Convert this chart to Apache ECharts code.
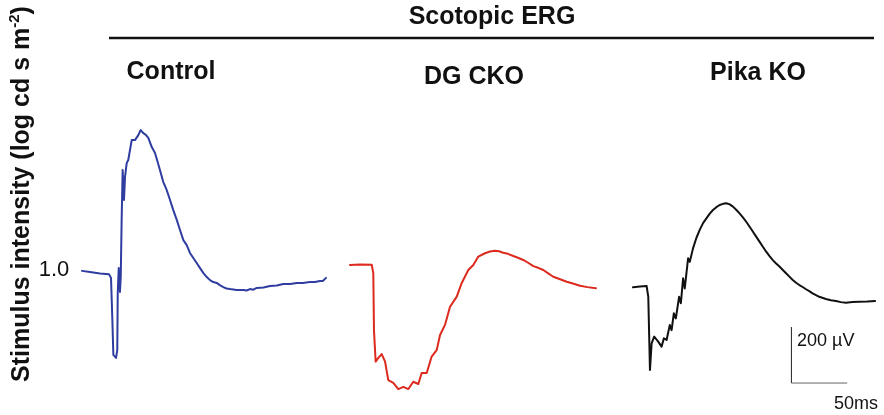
<!DOCTYPE html>
<html>
<head>
<meta charset="utf-8">
<script src="https://cdn.jsdelivr.net/npm/echarts@6/dist/echarts.min.js"></script>
<style>
  html, body { margin: 0; padding: 0; background: #fff; }
  #main { width: 884px; height: 415px; }
</style>
</head>
<body>
<div id="main"></div>
<script>
// time (ms from trace start) and amplitude (µV from baseline)
var controlT = [0, 7.1, 16.1, 24.1, 25.9, 27.1, 28.0, 30.4, 31.5, 31.9, 32.8, 33.9, 34.6, 35.4, 36.3, 37.5, 38.4, 39.9, 41.3, 42.9, 44.4, 47.3, 50.3, 52.4, 54.7, 57.0, 59.2, 62.2, 65.2, 69.6, 72.6, 75.6, 78.6, 81.5, 84.6, 87.5, 90.5, 93.5, 96.4, 99.4, 102.4, 105.4, 108.4, 111.4, 114.3, 117.2, 120.3, 123.0, 126.2, 129.0, 132.1, 138.0, 144.0, 147.0, 150.0, 153.0, 156.0, 162.0, 167.9, 174.0, 179.7, 186.0, 191.7, 197.0, 203.6, 208.0, 212.5, 215.0, 217.9]
var controlV = [4, 0, -5, -8, -21, -171, -296, -307, -279, -75, 14, -71, -18, 186, 364, 257, 339, 389, 400, 407, 471, 471, 489, 507, 496, 490, 479, 447, 425, 364, 321, 293, 257, 221, 186, 150, 114, 96, 68, 50, 32, 14, -4, -18, -29, -36, -39, -47, -54, -59, -61, -64, -64, -66, -61, -63, -57, -55, -50, -48, -43, -43, -39, -39, -36, -36, -32, -32, -21]

var dgT = [0, 8.9, 19.4, 20.8, 21.4, 22.9, 25.3, 28.3, 31.3, 34.2, 38.7, 43.1, 47.6, 52.1, 56.5, 61.0, 64.0, 68.5, 72.9, 77.4, 80.4, 84.8, 89.3, 95.3, 99.7, 105.6, 110.1, 114.6, 120.5, 125.0, 129.5, 133.0, 136.9, 141.0, 145.8, 150.0, 154.7, 159.0, 163.7, 168.0, 172.6, 177.0, 181.5, 187.0, 193.5, 199.0, 205.4, 212.0, 219.6]
var dgV = [0, 2, 1, -29, -232, -345, -332, -318, -345, -411, -421, -443, -435, -443, -417, -425, -386, -386, -327, -304, -250, -214, -149, -113, -65, -18, 0, 30, 42, 48, 51, 49, 44, 40, 32, 26, 18, 8, -4, -10, -18, -30, -42, -50, -60, -66, -74, -79, -83]

var pikaT = [0, 6.3, 12.2, 13.7, 15.2, 16.7, 19.0, 22.6, 25.6, 27.7, 30.1, 33.0, 34.6, 36.6, 38.4, 41.3, 42.9, 44.9, 46.4, 49.4, 50.9, 53.8, 56.8, 59.8, 62.8, 65.8, 68.8, 71.7, 74.7, 77.7, 80.7, 83.7, 86.7, 89.6, 92.5, 95.5, 98.5, 101.5, 104.4, 107.4, 110.4, 113.4, 116.4, 119.4, 122.4, 125.3, 128.3, 131.3, 134.3, 137.2, 140.2, 143.2, 146.2, 149.1, 152.1, 155.1, 158.0, 161.0, 164.0, 167.0, 172.9, 177.4, 181.9, 186.4, 190.8, 196.8, 202.7, 210.0, 217.0]
var pikaV = [-1, 2, 4, -35, -296, -201, -177, -195, -213, -183, -189, -136, -154, -94, -112, -35, -58, 31, -5, 103, 90, 138, 175, 204, 228, 245, 262, 275, 285, 293, 297, 299, 295, 287, 276, 263, 249, 233, 216, 198, 180, 162, 144, 126, 110, 96, 84, 73, 61, 49, 37, 25, 15, 7, 0, -8, -15, -23, -29, -35, -43, -47, -50, -54, -56, -54, -53, -52, -50]

// scale bar: 200 µV, 50 ms
var scaleT = [142, 142, 192]
var scaleV = [-143, -343, -343]

var panelNames = ['Control', 'DG CKO', 'Pika KO']

function pairs (t, v) {
  var out = []
  for (var i = 0; i < t.length; i++) out.push([t[i], v[i]])
  return out
}

var chart = echarts.init(document.getElementById('main'))
var font = 'Liberation Sans, Arial, Helvetica, sans-serif'

// each panel: same ms/px and µV/px, baseline placed where the trace sits
var gridLefts = [82, 350, 633]
var gridTops = [104, 97, 119]
var grids = [], xAxes = [], yAxes = []
for (var g = 0; g < 3; g++) {
  grids.push({ left: gridLefts[g], top: gridTops[g], width: 252, height: 294 })
  xAxes.push({ type: 'value', gridIndex: g, min: 0, max: 225, show: false })
  yAxes.push({ type: 'value', gridIndex: g, min: -450, max: 600, show: false })
}

function trace (idx, t, v, color, w) {
  return {
    type: 'line', xAxisIndex: idx, yAxisIndex: idx,
    data: pairs(t, v), symbol: 'none', clip: false, silent: true,
    lineStyle: { color: color, width: w, join: 'round', cap: 'round' }
  }
}

function label (text, x, y, size, bold, align) {
  return {
    type: 'text',
    style: {
      text: text, x: x, y: y, fontSize: size, fontWeight: bold ? 'bold' : 'normal',
      fontFamily: font, fill: '#111', textAlign: align || 'center', textVerticalAlign: 'middle'
    }
  }
}

var option = {
  animation: false,
  backgroundColor: '#fff',
  grid: grids,
  xAxis: xAxes,
  yAxis: yAxes,
  series: [
    trace(0, controlT, controlV, '#2f3da0', 2),
    trace(1, dgT, dgV, '#dc2a1e', 2),
    trace(2, pikaT, pikaV, '#111111', 2),
    {
      type: 'line', xAxisIndex: 2, yAxisIndex: 2,
      data: pairs(scaleT.slice(0, 2), scaleV.slice(0, 2)), symbol: 'none', clip: false,
      lineStyle: { color: '#222', width: 1 }
    },
    {
      type: 'line', xAxisIndex: 2, yAxisIndex: 2,
      data: pairs(scaleT.slice(1), scaleV.slice(1)), symbol: 'none', clip: false,
      lineStyle: { color: '#666', width: 1 }
    }
  ],
  graphic: [
    label('Scotopic ERG', 492, 17, 25, true),
    { type: 'line', shape: { x1: 109, y1: 38, x2: 874, y2: 38 }, style: { stroke: '#111', lineWidth: 2.5 } },
    label(panelNames[0], 171, 72, 25, true),
    label(panelNames[1], 474, 77, 25, true),
    label(panelNames[2], 758, 73, 25, true),
    label('1.0', 54, 270, 22, false),
    label('200 µV', 797, 341, 18, false, 'left'),
    label('50ms', 856, 404, 18, false),
    {
      type: 'text', x: 22, y: 194, rotation: Math.PI / 2,
      style: {
        text: '{a|Stimulus intensity (log cd s m}{b|-2}{a|)}',
        x: 0, y: 0, textAlign: 'center', textVerticalAlign: 'middle', fill: '#111',
        rich: {
          a: { fontSize: 25, fontWeight: 'bold', fontFamily: font, fill: '#111', lineHeight: 29 },
          b: { fontSize: 15, fontWeight: 'bold', fontFamily: font, fill: '#111', lineHeight: 29, verticalAlign: 'top' }
        }
      }
    }
  ]
}

chart.setOption(option)
</script>
</body>
</html>
